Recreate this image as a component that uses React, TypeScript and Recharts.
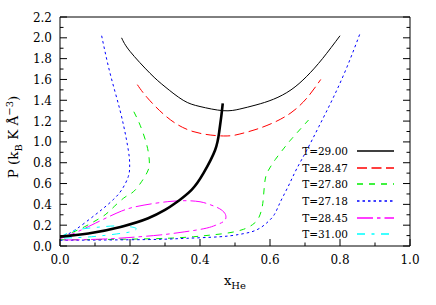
import React from "react";
import { LineChart, Line, XAxis, YAxis, Legend } from "recharts";

const FONT = "'DejaVu Serif', serif";

const xTicks = [0, 0.1, 0.2, 0.3, 0.4, 0.5, 0.6, 0.7, 0.8, 0.9, 1.0];
const yTicks = [
  0, 0.1, 0.2, 0.3, 0.4, 0.5, 0.6, 0.7, 0.8, 0.9, 1.0, 1.1, 1.2, 1.3, 1.4, 1.5, 1.6, 1.7, 1.8, 1.9, 2.0, 2.1, 2.2,
];

// [x_He, P] pairs
const t2900 = [
  [0.176, 2.0], [0.2, 1.87], [0.257, 1.66], [0.3, 1.53], [0.352, 1.4], [0.4, 1.34], [0.466, 1.3],
  [0.514, 1.316], [0.56, 1.355], [0.61, 1.41], [0.66, 1.5], [0.705, 1.63], [0.75, 1.8], [0.8, 2.02],
];
const t2847 = [
  [0.221, 1.55], [0.248, 1.43], [0.305, 1.24], [0.38, 1.1], [0.467, 1.057], [0.514, 1.076],
  [0.56, 1.12], [0.61, 1.185], [0.66, 1.28], [0.705, 1.42], [0.745, 1.6],
];
const t2780Left = [
  [0.211, 1.29], [0.229, 1.16], [0.248, 0.97], [0.255, 0.826], [0.252, 0.73], [0.233, 0.618],
  [0.21, 0.522], [0.186, 0.47], [0.155, 0.38], [0.129, 0.3], [0.1, 0.24], [0.071, 0.186],
  [0.035, 0.13], [0, 0.085],
];
const t2780Right = [
  [0, 0.06], [0.1, 0.062], [0.2, 0.066], [0.305, 0.074], [0.381, 0.089], [0.43, 0.105],
  [0.48, 0.125], [0.524, 0.16], [0.55, 0.205], [0.566, 0.26], [0.576, 0.35], [0.581, 0.46],
  [0.586, 0.634], [0.596, 0.73], [0.615, 0.83], [0.64, 0.94], [0.662, 1.03], [0.71, 1.21],
];
const t2718Left = [
  [0.119, 2.02], [0.143, 1.66], [0.171, 1.31], [0.19, 1.02], [0.198, 0.85], [0.199, 0.76],
  [0.195, 0.666], [0.176, 0.538], [0.152, 0.445], [0.125, 0.365], [0.1, 0.298], [0.07, 0.22],
  [0.043, 0.154], [0.02, 0.11], [0, 0.085],
];
const t2718Right = [
  [0, 0.055], [0.1, 0.057], [0.2, 0.06], [0.286, 0.064], [0.362, 0.074], [0.457, 0.089],
  [0.51, 0.11], [0.548, 0.137], [0.575, 0.18], [0.595, 0.235], [0.612, 0.3], [0.625, 0.39],
  [0.638, 0.48], [0.656, 0.6], [0.676, 0.74], [0.705, 0.92], [0.74, 1.15], [0.78, 1.42],
  [0.82, 1.72], [0.857, 2.04],
];
const t2845 = [
  [0, 0.07], [0.035, 0.115], [0.071, 0.17], [0.12, 0.25], [0.176, 0.336], [0.22, 0.38],
  [0.271, 0.41], [0.32, 0.43], [0.362, 0.435], [0.4, 0.425], [0.429, 0.397], [0.455, 0.36],
  [0.471, 0.314], [0.474, 0.27], [0.467, 0.234], [0.445, 0.2], [0.419, 0.172], [0.38, 0.148],
  [0.343, 0.13], [0.286, 0.106], [0.2, 0.082], [0.13, 0.068], [0.06, 0.06], [0, 0.058],
];
const t3100 = [
  [0, 0.085], [0.043, 0.15], [0.1, 0.178], [0.157, 0.193], [0.2, 0.185], [0.218, 0.165],
  [0.205, 0.14], [0.176, 0.122], [0.1, 0.092], [0.043, 0.08], [0, 0.075],
];
const spinodal = [
  [0, 0.09], [0.081, 0.12], [0.176, 0.186], [0.252, 0.266], [0.3, 0.346], [0.329, 0.41],
  [0.376, 0.54], [0.41, 0.7], [0.443, 0.92], [0.455, 1.1], [0.461, 1.25], [0.465, 1.37],
];

const toPts = (arr: number[][]) => arr.map(([x, y]) => ({ x, y }));

const series = [
  { name: "T=29.00", color: "#000000", dash: undefined, parts: [t2900] },
  { name: "T=28.47", color: "#ff0000", dash: "10 4.5", parts: [t2847] },
  { name: "T=27.80", color: "#00ee00", dash: "6 6", parts: [t2780Left, t2780Right] },
  { name: "T=27.18", color: "#0000ff", dash: "2.5 3", parts: [t2718Left, t2718Right] },
  { name: "T=28.45", color: "#ff00ff", dash: "16 4 3.5 4", parts: [t2845] },
  { name: "T=31.00", color: "#00ffff", dash: "8 6.5 3 6.5", parts: [t3100] },
];

const isMajor = (v: number) => Math.round(v * 10) % 2 === 0;

function BottomTick(props: any) {
  const { x, y, payload } = props;
  const major = isMajor(payload.value);
  return (
    <g>
      <line x1={x} y1={y} x2={x} y2={y - (major ? 7 : 3.5)} stroke="#000" />
      {major && (
        <text x={x} y={y + 18} textAnchor="middle" fontFamily={FONT} fontSize={12} fill="#000">
          {payload.value.toFixed(1)}
        </text>
      )}
    </g>
  );
}

function TopTick(props: any) {
  const { x, y, payload } = props;
  const major = isMajor(payload.value);
  return <line x1={x} y1={y} x2={x} y2={y + (major ? 7 : 3.5)} stroke="#000" />;
}

function LeftTick(props: any) {
  const { x, y, payload } = props;
  const major = isMajor(payload.value);
  return (
    <g>
      <line x1={x} y1={y} x2={x + (major ? 7 : 3.5)} y2={y} stroke="#000" />
      {major && (
        <text x={x - 8} y={y + 4.5} textAnchor="end" fontFamily={FONT} fontSize={12} fill="#000">
          {payload.value.toFixed(1)}
        </text>
      )}
    </g>
  );
}

function RightTick(props: any) {
  const { x, y, payload } = props;
  const major = isMajor(payload.value);
  return <line x1={x} y1={y} x2={x - (major ? 7 : 3.5)} y2={y} stroke="#000" />;
}

function XTitle() {
  return (
    <text x={235} y={285} textAnchor="middle" fontFamily={FONT} fontSize={13} fill="#000">
      x
      <tspan dy={4} fontSize={10}>He</tspan>
    </text>
  );
}

function YTitle() {
  return (
    <text
      x={0}
      y={0}
      transform="translate(18,137) rotate(-90)"
      textAnchor="middle"
      fontFamily={FONT}
      fontSize={13.5}
      fill="#000"
    >
      P (k
      <tspan dy={3.5} fontSize={10}>B</tspan>
      <tspan dy={-3.5}> K Å</tspan>
      <tspan dy={-5.5} fontSize={10}>−3</tspan>
      <tspan dy={5.5}>)</tspan>
    </text>
  );
}

function renderLegend() {
  return (
    <div style={{ fontFamily: FONT, fontSize: 10.5, color: "#000" }}>
      {series.map((s) => (
        <div
          key={s.name}
          style={{ display: "flex", alignItems: "center", justifyContent: "flex-end", height: 16.67 }}
        >
          <span>{s.name}</span>
          <svg width={37.3} height={6} style={{ marginLeft: 8.7, display: "block" }}>
            <line x1={0} y1={3} x2={37.3} y2={3} stroke={s.color} strokeWidth={1.4} strokeDasharray={s.dash} />
          </svg>
        </div>
      ))}
    </div>
  );
}

export default function App() {
  return (
    <div style={{ position: "absolute", left: 0, top: 0, background: "#fff" }}>
      <LineChart width={436} height={305} margin={{ top: 16, right: 25, bottom: 58, left: 59 }}>
        <XAxis
          dataKey="x"
          type="number"
          domain={[0, 1]}
          ticks={xTicks}
          interval={0}
          height={1}
          tickSize={0}
          tickMargin={0}
          tickLine={false}
          tick={BottomTick}
          axisLine={{ stroke: "#000" }}
          label={XTitle}
          allowDataOverflow
        />
        <XAxis
          xAxisId="top"
          orientation="top"
          type="number"
          domain={[0, 1]}
          ticks={xTicks}
          interval={0}
          height={1}
          tickSize={0}
          tickMargin={0}
          tickLine={false}
          tick={TopTick}
          axisLine={{ stroke: "#000" }}
          allowDataOverflow
        />
        <YAxis
          dataKey="y"
          type="number"
          domain={[0, 2.2]}
          ticks={yTicks}
          interval={0}
          width={1}
          tickSize={0}
          tickMargin={0}
          tickLine={false}
          tick={LeftTick}
          axisLine={{ stroke: "#000" }}
          label={YTitle}
          allowDataOverflow
        />
        <YAxis
          yAxisId="right"
          orientation="right"
          type="number"
          domain={[0, 2.2]}
          ticks={yTicks}
          interval={0}
          width={1}
          tickSize={0}
          tickMargin={0}
          tickLine={false}
          tick={RightTick}
          axisLine={{ stroke: "#000" }}
          allowDataOverflow
        />
        {series.flatMap((s) =>
          s.parts.map((part, i) => (
            <Line
              key={`${s.name}-${i}`}
              data={toPts(part)}
              dataKey="y"
              name={s.name}
              type="natural"
              stroke={s.color}
              strokeWidth={1}
              strokeDasharray={s.dash}
              dot={false}
              activeDot={false}
              legendType="none"
              isAnimationActive={false}
            />
          ))
        )}
        <Line
          data={toPts(spinodal)}
          dataKey="y"
          name="spinodal"
          type="natural"
          stroke="#000"
          strokeWidth={2.6}
          dot={false}
          activeDot={false}
          legendType="none"
          isAnimationActive={false}
        />
        <Legend
          layout="vertical"
          align="center"
          verticalAlign="middle"
          content={renderLegend}
          wrapperStyle={{ left: 290, top: 142.7, width: 104 }}
        />
      </LineChart>
    </div>
  );
}
